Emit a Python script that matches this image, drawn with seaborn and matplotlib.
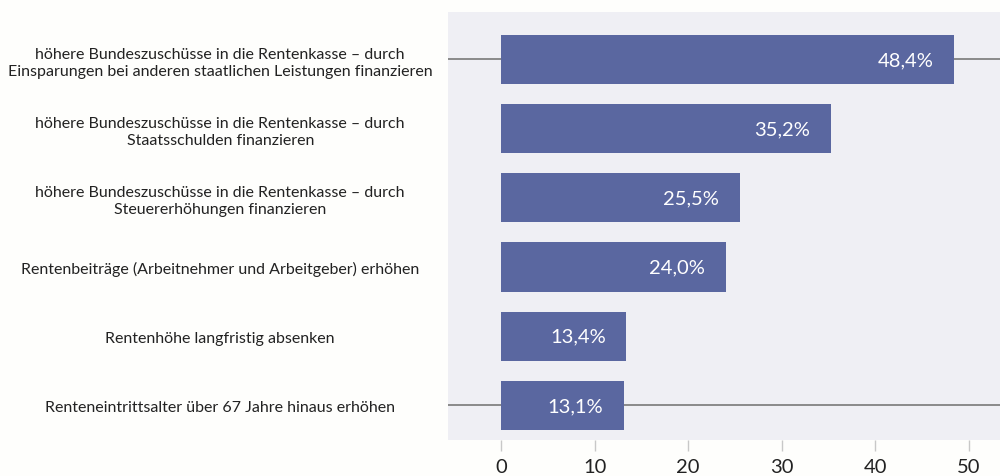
import matplotlib
matplotlib.use("Agg")
import matplotlib.pyplot as plt
import seaborn as sns
import pandas as pd

categories = [
    "höhere Bundeszuschüsse in die Rentenkasse – durch\nEinsparungen bei anderen staatlichen Leistungen finanzieren",
    "höhere Bundeszuschüsse in die Rentenkasse – durch\nStaatsschulden finanzieren",
    "höhere Bundeszuschüsse in die Rentenkasse – durch\nSteuererhöhungen finanzieren",
    "Rentenbeiträge (Arbeitnehmer und Arbeitgeber) erhöhen",
    "Rentenhöhe langfristig absenken",
    "Renteneintrittsalter über 67 Jahre hinaus erhöhen",
]
values = [48.4, 35.2, 25.5, 24.0, 13.4, 13.1]
xticks = [0, 10, 20, 30, 40, 50]

sns.set_theme(style="white")
plt.rcParams["font.family"] = ["Lato", "DejaVu Sans"]

df = pd.DataFrame({"cat": categories, "val": values})

fig = plt.figure(figsize=(10, 4.77), dpi=100, facecolor="#fefefc")
ax = fig.add_axes([0.448, 0.0755, 0.552, 0.8973])
ax.set_facecolor("#efeff4")

# reference lines at first and last category
for idx in (0, len(categories) - 1):
    ax.axhline(idx, color="#8a8a8a", lw=1.4, zorder=0.5)

sns.barplot(data=df, x="val", y="cat", orient="h", color="#5a67a0",
            saturation=1, width=0.71, ax=ax, zorder=2, linewidth=0,
            edgecolor="none")

for i, v in enumerate(values):
    t = ax.annotate(f"{v:.1f}%".replace(".", ","), xy=(v, i), xytext=(-15, 0),
                    textcoords="offset points", ha="right", va="center",
                    color="#ffffff", fontsize=14.5, fontweight="normal")
    t.set_zorder(10)

ax.set_xlim(-5.66, 53.3)
ax.set_ylim(5.5, -0.686)
ax.set_xticks(xticks)
ax.set_xticklabels([str(t) for t in xticks], fontsize=14.5, color="#222222")
ax.tick_params(axis="x", length=8, width=1, color="#c8c8c8", pad=5, bottom=True)
ax.tick_params(axis="y", length=0, pad=164)
ax.set_yticks(range(len(categories)))
ax.set_yticklabels(categories, fontsize=11.5, color="#222222")
for lab in ax.get_yticklabels():
    lab.set_ha("center")
    lab.set_multialignment("center")
    lab.set_linespacing(1.25)
ax.set_xlabel("")
ax.set_ylabel("")
for s in ax.spines.values():
    s.set_visible(False)

fig.savefig("out.png", dpi=100, facecolor=fig.get_facecolor())
